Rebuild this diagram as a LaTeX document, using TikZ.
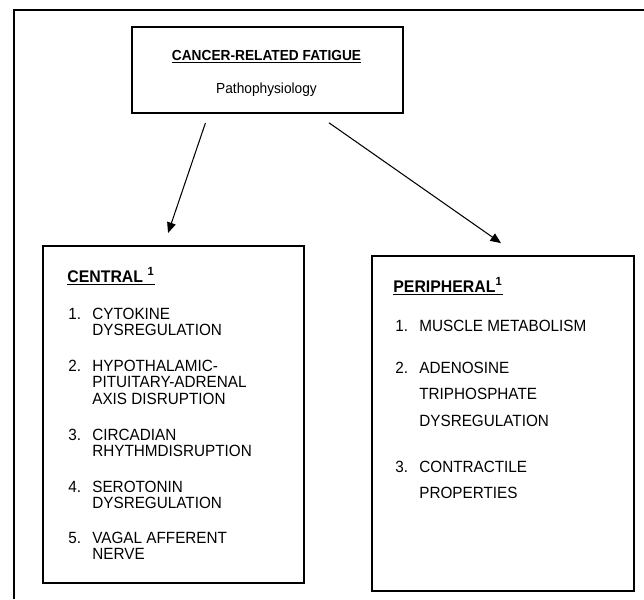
\documentclass[tikz,border=0pt]{standalone}
\usepackage{fontspec}
\setmainfont{Liberation Sans}[FakeStretch=0.94]
\usetikzlibrary{arrows.meta,calc}
% lines of one item, baseline on the first line
\newcommand{\itemlines}[1]{\begin{tabular}[t]{@{}l@{}}#1\end{tabular}}

\begin{document}
\begin{tikzpicture}[x=0.02cm,y=-0.02cm,
    box/.style={draw,line width=1.1pt,inner sep=0pt,anchor=north west},
    arrow/.style={-{Triangle[length=6pt,width=5pt]},line width=0.6pt},
    head/.style={anchor=base west,inner sep=0pt,font=\fontsize{9.6}{11}\selectfont\bfseries},
    num/.style={anchor=base west,inner sep=0pt,font=\fontsize{9.25}{9.5}\selectfont},
    item/.style={anchor=base west,inner sep=0pt,font=\fontsize{9.25}{9.5}\selectfont},
    pitem/.style={item,font=\fontsize{9.25}{15.3}\selectfont}
  ]
    \useasboundingbox (0,0) rectangle (644,599);
    % outer frame, cut off at right and bottom
    \draw[line width=1.1pt] (14,599) -- (14,10) -- (644,10);

    \node[box,minimum width=5.42cm,minimum height=1.72cm] (cause) at (131,26) {};
    \node[inner sep=0pt,anchor=base,font=\fontsize{8.3}{9}\selectfont\bfseries] (title) at (266.5,60) {\underline{CANCER-RELATED FATIGUE}};
    \node[inner sep=0pt,anchor=base,font=\fontsize{8.3}{9}\selectfont] (sub) at (266.5,93) {Pathophysiology};

    \node[box,minimum width=5.22cm,minimum height=6.74cm] (central) at (42,245) {};
    \node[box,minimum width=5.24cm,minimum height=6.70cm] (periph) at (371,255) {};

    \draw[arrow,shorten <=5.4pt,shorten >=7.2pt] ($(cause.south west)!0.284!(cause.south east)$) -- ($(central.north west)!0.464!(central.north east)$);
    \draw[arrow,shorten <=8.8pt,shorten >=11.8pt] ($(cause.south west)!0.679!(cause.south east)$) -- ($(periph.north west)!0.557!(periph.north east)$);

    % central causes
    \node[head] (chead) at (67,282) {\underline{CENTRAL \textsuperscript{1}}};
    \node[num] (n1) at (68,319) {1.};
    \node[item] (c1) at (92,319) {\itemlines{CYTOKINE\\DYSREGULATION}};
    \node[num] (n2) at (68,371) {2.};
    \node[item] (c2) at (92,371) {\itemlines{HYPOTHALAMIC-\\PITUITARY-ADRENAL\\AXIS DISRUPTION}};
    \node[num] (n3) at (68,440) {3.};
    \node[item] (c3) at (92,440) {\itemlines{CIRCADIAN\\RHYTHMDISRUPTION}};
    \node[num] (n4) at (68,492) {4.};
    \node[item] (c4) at (92,492) {\itemlines{SEROTONIN\\DYSREGULATION}};
    \node[num] (n5) at (68,543) {5.};
    \node[item] (c5) at (92,543) {\itemlines{VAGAL AFFERENT\\NERVE}};

    % peripheral causes
    \node[head] (phead) at (393,292) {\underline{PERIPHERAL\textsuperscript{1}}};
    \node[num] (m1) at (395,331) {1.};
    \node[pitem] (p1) at (419,331) {MUSCLE METABOLISM};
    \node[num] (m2) at (395,373) {2.};
    \node[pitem] (p2) at (419,373) {\itemlines{ADENOSINE\\TRIPHOSPHATE\\DYSREGULATION}};
    \node[num] (m3) at (395,472) {3.};
    \node[pitem] (p3) at (419,472) {\itemlines{CONTRACTILE\\PROPERTIES}};
  \end{tikzpicture}
\end{document}
